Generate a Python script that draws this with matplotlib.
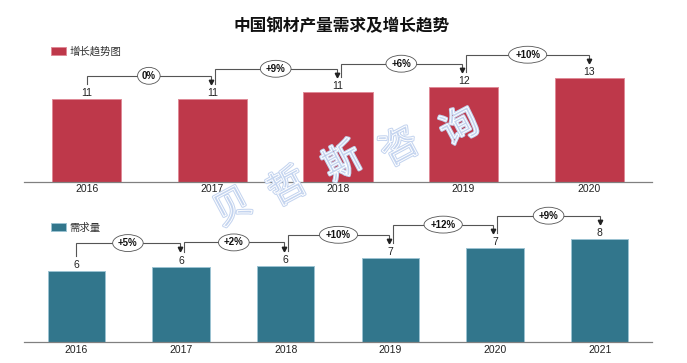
import numpy as np
import matplotlib
matplotlib.use('Agg')
import matplotlib.pyplot as plt
import matplotlib.patheffects as pe

plt.rcParams['font.family'] = ['Liberation Sans', 'Noto Sans CJK SC', 'DejaVu Sans']

title = '中国钢材产量需求及增长趋势'

# 增长趋势图 (top panel)
years_top = ['2016', '2017', '2018', '2019', '2020']
output_vals = [10.55, 10.55, 11.45, 12.1, 13.25]
output_growth = ['0%', '+9%', '+6%', '+10%']

# 需求量 (bottom panel)
years_bot = ['2016', '2017', '2018', '2019', '2020', '2021']
demand_vals = [5.6, 5.95, 6.0, 6.6, 7.4, 8.1]
demand_growth = ['+5%', '+2%', '+10%', '+12%', '+9%']

watermark = '贝哲斯咨询'

W, H = 687, 363
fig = plt.figure(figsize=(W / 100, H / 100), dpi=100)


def axes_px(left, top, right, bottom):
    return fig.add_axes([left / W, 1 - bottom / H, (right - left) / W, (bottom - top) / H])


def panel(ax, years, vals, growth, color, edge, label, ymax, legend_top, tick_pad):
    n = len(years)
    x = np.arange(n)
    bars = ax.bar(x, vals, width=0.55, color=color, edgecolor=edge, linewidth=0.7, zorder=2)
    ax.set_xlim(-0.5, n - 0.5)
    ax.set_ylim(0, ymax)
    ax.set_xticks(x, years)
    ax.set_yticks([])
    ax.tick_params(axis='x', length=0, pad=tick_pad, labelsize=7.5, colors='#222222')
    for s in ['top', 'right', 'left']:
        ax.spines[s].set_visible(False)
    ax.spines['bottom'].set_color('#808080')
    ax.spines['bottom'].set_linewidth(0.9)
    ax.patch.set_visible(False)

    ppu = ax.bbox.height / ymax      # pixels per y unit
    dxp = n / ax.bbox.width          # x units per pixel

    for i, v in enumerate(vals):
        ax.annotate(f'{v:.0f}', (i, v), xytext=(0, 3), textcoords='offset pixels',
                    ha='center', va='baseline', fontsize=7.5, color='#222222')

    up = 15 / ppu
    lev = 23.5 / ppu
    head = 2.4 / ppu
    for i in range(n - 1):
        x0 = i + (2.5 * dxp if i > 0 else 0)
        x1 = i + 1 - (1.5 * dxp if i + 1 < n - 1 else 0)
        y0 = vals[i] + up
        y1 = vals[i + 1] + up
        yl = max(vals[i], vals[i + 1]) + lev
        ax.plot([x0, x0, x1, x1], [y0, yl, yl, y1 + head], color='#555555', lw=0.8,
                solid_joinstyle='miter', zorder=3)
        ax.plot(x1, y1 + head, marker='v', ms=3.2, color='#222222', mec='#222222', zorder=3)
        ax.text((x0 + x1) / 2, yl, growth[i], ha='center', va='center', fontsize=7,
                fontweight='bold', color='#111111', zorder=4,
                bbox=dict(boxstyle='ellipse,pad=0.1', fc='white', ec='#555555', lw=0.6))

    ax.legend([bars], [label], loc='upper left', bbox_to_anchor=(51 / W, 1 - legend_top / H),
              bbox_transform=fig.transFigure, frameon=False, borderpad=0, borderaxespad=0,
              handlelength=1.45, handleheight=0.9, handletextpad=0.35, fontsize=7.5,
              labelcolor='#333333')


ax1 = axes_px(24, 40, 652, 181.7)
panel(ax1, years_top, output_vals, output_growth, '#BE384A', '#E08A97', '增长趋势图',
      141.7 / 7.81, 46.0, 2.0)

ax2 = axes_px(24, 205, 652, 342.3)
panel(ax2, years_bot, demand_vals, demand_growth, '#32768C', '#9CC3D2', '需求量',
      137.3 / 12.73, 222.5, 2.2)

fig.text(342 / W, 1 - 26 / H, title, ha='center', va='center', fontsize=12,
         fontweight='bold', family=['Noto Sans CJK SC', 'DejaVu Sans'], color='#111111')

# watermark
wm_pos = [(233, 208), (288, 188), (343, 163), (400, 148), (460, 128)]
for ch, (px, py) in zip(watermark, wm_pos):
    fig.text(px / W, 1 - py / H, ch, ha='center', va='center', fontsize=27, rotation=28,
             family=['Noto Sans CJK SC'], color='none', zorder=10,
             path_effects=[pe.Stroke(linewidth=2.2, foreground='#c4d4ef'),
                           pe.Stroke(linewidth=0.7, foreground='white')])

fig.savefig('out.png', dpi=100)
